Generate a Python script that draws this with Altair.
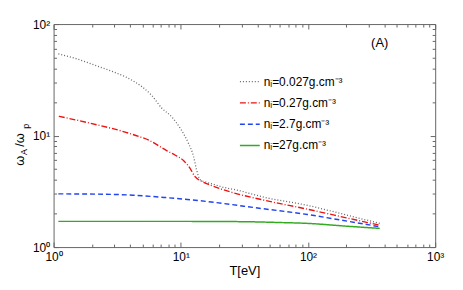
import altair as alt
import pandas as pd

FONT = "Liberation Sans"

series_names = ["nᵢ=0.027g.cm⁻³", "nᵢ=0.27g.cm⁻³", "nᵢ=2.7g.cm⁻³", "nᵢ=27g.cm⁻³"]
series_colors = ["#666666", "#ee1111", "#2244ee", "#33aa22"]
series_dash = [[1, 2], [6, 2, 1, 2], [5, 3], [1, 0]]
series_width = [1.3, 1.5, 1.5, 2.0]

T_0027 = [1.09, 1.5, 2.0, 3.0, 3.7, 4.3, 5.0, 5.9, 7.1, 8.5, 9.9, 11.5, 12.6, 13.3, 14.2, 15.5, 17.4, 22.0, 26.5, 45.0, 100, 200, 367]
w_0027 = [54.0, 49.0, 43.7, 37.0, 33.5, 30.5, 27.2, 22.9, 17.6, 14.7, 11.6, 8.5, 6.5, 4.94, 4.02, 3.85, 3.7, 3.42, 3.28, 2.8, 2.36, 1.94, 1.63]

T_027 = [1.1, 2.0, 3.7, 4.7, 5.6, 6.7, 7.8, 9.0, 10.5, 11.8, 12.9, 14.6, 17.0, 23.5, 42.8, 100, 200, 367]
w_027 = [14.9, 12.8, 10.7, 9.8, 9.1, 8.1, 7.3, 6.7, 5.97, 5.1, 4.3, 3.88, 3.6, 3.17, 2.67, 2.18, 1.83, 1.57]

T_27 = [1.09, 2.45, 4.2, 7.6, 14.3, 44.0, 99.0, 180, 367]
w_27 = [3.0, 2.98, 2.92, 2.78, 2.6, 2.21, 1.96, 1.75, 1.52]

T_270 = [1.09, 10, 30, 60, 100, 200, 367]
w_270 = [1.70, 1.70, 1.69, 1.66, 1.63, 1.54, 1.47]

x_major = [1, 10, 100, 1000]
x_minor = [2, 3, 4, 5, 6, 7, 8, 9, 20, 30, 40, 50, 60, 70, 80, 90, 200, 300, 400, 500, 600, 700, 800, 900]
y_major = [1, 10, 100]
y_minor = [2, 3, 4, 5, 6, 7, 8, 9, 20, 30, 40, 50, 60, 70, 80, 90]

rows = []
for name, Ts, ws in zip(series_names, [T_0027, T_027, T_27, T_270], [w_0027, w_027, w_27, w_270]):
    for i, (t, w) in enumerate(zip(Ts, ws)):
        rows.append({"T": t, "w": w, "series": name, "order": i})
df = pd.DataFrame(rows)

xscale = alt.Scale(type="log", domain=[1, 1000], nice=False)
yscale = alt.Scale(type="log", domain=[1, 100], nice=False)

sup = "{'1':'⁰','10':'¹','100':'²','1000':'³'}"
label_expr = "'10' + " + sup + "[datum.value + '']"

lines = alt.Chart(df).mark_line(clip=True, interpolate="monotone").encode(
    x=alt.X("T:Q", scale=xscale, axis=alt.Axis(
        values=x_major, labelExpr=label_expr, ticks=False, domain=False, grid=False,
        title="T[eV]", titleFont=FONT, titleFontSize=13, titleFontWeight="normal",
        titleColor="#000", titlePadding=2, labelFont=FONT, labelFontSize=12,
        labelColor="#000", labelPadding=5, labelFlush=False)),
    y=alt.Y("w:Q", scale=yscale, axis=alt.Axis(
        values=y_major, labelExpr=label_expr, ticks=False, domain=False, grid=False,
        title=None, labelFont=FONT, labelFontSize=12, labelColor="#000",
        labelPadding=4, labelFlush=False)),
    color=alt.Color("series:N", scale=alt.Scale(domain=series_names, range=series_colors),
                    legend=alt.Legend(title=None, orient="none", legendX=187, legendY=47,
                                      symbolType="stroke", symbolSize=400, symbolStrokeWidth=1.5,
                                      labelFont=FONT, labelFontSize=12, labelColor="#000",
                                      rowPadding=4.5, labelOffset=3)),
    strokeDash=alt.StrokeDash("series:N", scale=alt.Scale(domain=series_names, range=series_dash)),
    strokeWidth=alt.StrokeWidth("series:N", scale=alt.Scale(domain=series_names, range=series_width), legend=None),
    order="order:Q",
)


def tick_layer(xvals, yvals, size, xorient, yorient):
    return alt.Chart(df).mark_point(opacity=0).encode(
        x=alt.X("T:Q", scale=xscale, axis=alt.Axis(
            values=xvals, orient=xorient, labels=False, domain=False, grid=False, title=None,
            tickSize=size, offset=-size, tickColor="#666")),
        y=alt.Y("w:Q", scale=yscale, axis=alt.Axis(
            values=yvals, orient=yorient, labels=False, domain=False, grid=False, title=None,
            tickSize=size, offset=-size, tickColor="#666")),
    )


one = alt.Data(values=[{"k": 1}])
title_w1 = alt.Chart(one).mark_text(text="ω", angle=270, font=FONT, fontSize=13, align="center", baseline="middle").encode(
    x=alt.value(-34), y=alt.value(138))
title_a = alt.Chart(one).mark_text(text="A", angle=270, font=FONT, fontSize=9, align="center", baseline="middle").encode(
    x=alt.value(-30), y=alt.value(129))
title_w2 = alt.Chart(one).mark_text(text="/ω", angle=270, font=FONT, fontSize=13, align="center", baseline="middle").encode(
    x=alt.value(-34), y=alt.value(117))
title_p = alt.Chart(one).mark_text(text="p", angle=270, font=FONT, fontSize=9, align="center", baseline="middle").encode(
    x=alt.value(-28), y=alt.value(103))
label_A = alt.Chart(one).mark_text(text="(A)", font=FONT, fontSize=13, align="center", baseline="middle").encode(
    x=alt.value(329), y=alt.value(19))

chart = alt.layer(
    lines,
    tick_layer(x_major, y_major, 5, "bottom", "left"),
    tick_layer(x_minor, y_minor, 3, "bottom", "left"),
    tick_layer(x_major, y_major, 5, "top", "right"),
    tick_layer(x_minor, y_minor, 3, "top", "right"),
    title_w1, title_a, title_w2, title_p, label_A,
).resolve_axis(x="independent", y="independent").properties(
    width=385, height=225,
    autosize=alt.AutoSizeParams(type="none"),
    padding={"left": 46, "top": 15, "right": 20, "bottom": 30},
    background="white",
).configure_view(stroke="#666", strokeWidth=1)

chart.save("out.html", embed_options={"renderer": "svg", "actions": False})
